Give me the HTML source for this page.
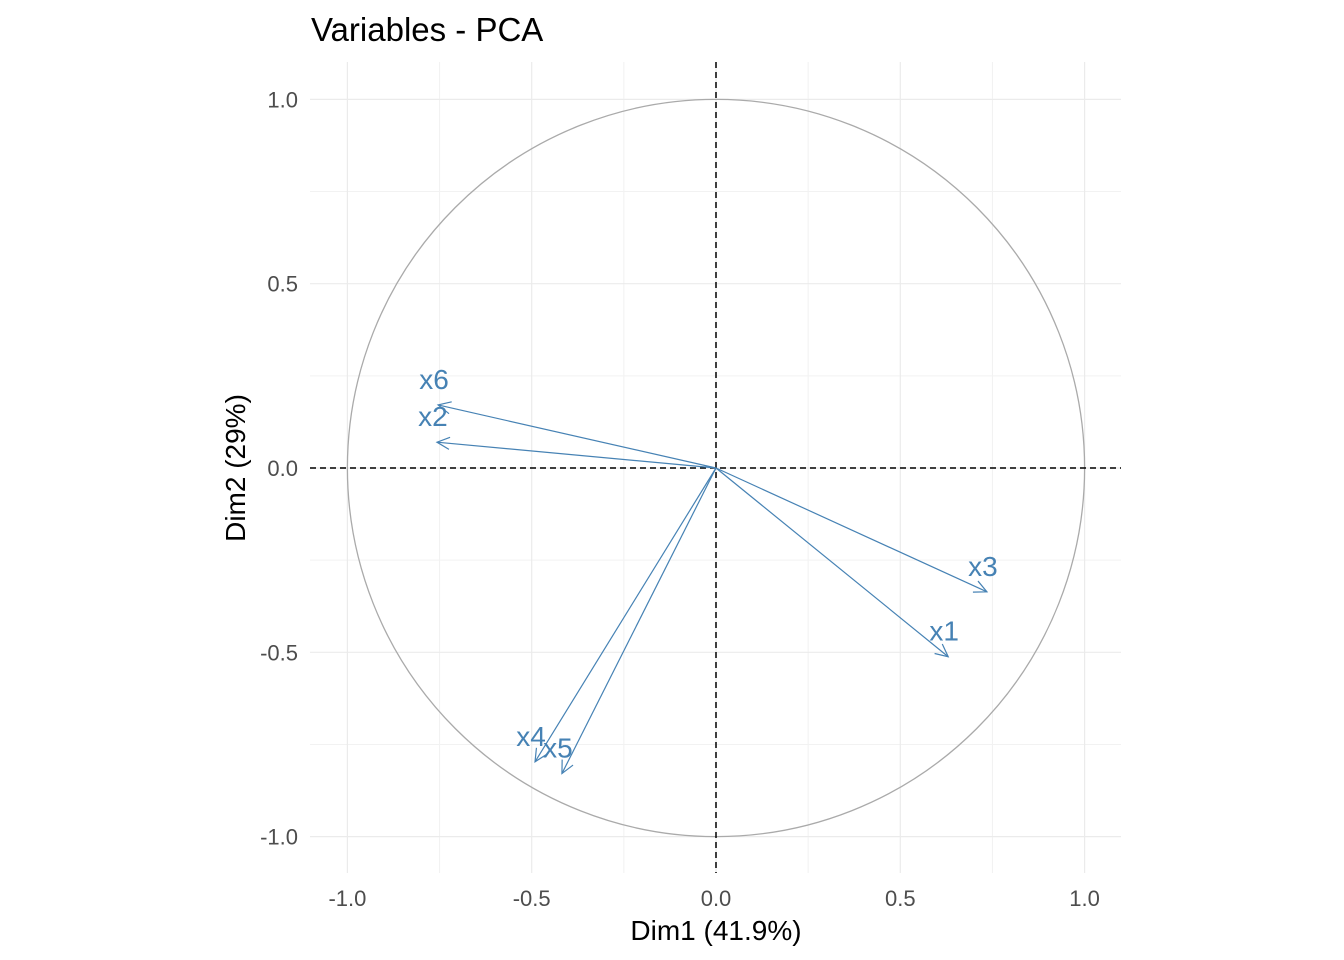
<!DOCTYPE html>
<html><head><meta charset="utf-8"><style>
html,body{margin:0;padding:0;background:#fff;}
svg{display:block;font-family:"Liberation Sans",Arial,sans-serif;}
</style></head><body>
<svg id="chart" width="1344" height="960" viewBox="0 0 1344 960" xmlns="http://www.w3.org/2000/svg">
<text x="311" y="41" font-size="33" fill="#000">Variables - PCA</text>
<g id="grid"></g>
<g id="circle"></g>
<g id="refs"></g>
<g id="arrows"></g>
<g id="ticks"></g>
<text x="716" y="940" font-size="28" text-anchor="middle" fill="#000">Dim1 (41.9%)</text>
<text transform="translate(245,468) rotate(-90)" font-size="28" text-anchor="middle" fill="#000">Dim2 (29%)</text>
</svg>
<script>
const varNames = ["x1","x2","x3","x4","x5","x6"];
const dim1 = [0.630,-0.757,0.735,-0.491,-0.418,-0.754];
const dim2 = [-0.512,0.070,-0.336,-0.797,-0.829,0.171];
const majorTicks = [-1.0,-0.5,0.0,0.5,1.0];
const tickLabels = ["-1.0","-0.5","0.0","0.5","1.0"];
const minorTicks = [-0.75,-0.25,0.25,0.75];

const NS="http://www.w3.org/2000/svg";
const X0=716, Y0=468, S=368.6;
const sx=v=>X0+v*S, sy=v=>Y0-v*S;
const L=310,R=1121,T=62,B=873;
function mk(tag,attrs,parent){const e=document.createElementNS(NS,tag);for(const k in attrs)e.setAttribute(k,attrs[k]);parent.appendChild(e);return e;}
const grid=document.getElementById('grid');
minorTicks.forEach(v=>{
  let a=mk('line',{x1:sx(v),x2:sx(v),y1:T,y2:B,stroke:'#f2f2f2','stroke-width':1},grid);
  
  
  let b=mk('line',{x1:L,x2:R,y1:sy(v),y2:sy(v),stroke:'#f2f2f2','stroke-width':1},grid);
  
  
});
majorTicks.forEach(v=>{
  let a=mk('line',{x1:sx(v),x2:sx(v),y1:T,y2:B,stroke:'#ebebeb','stroke-width':1.2},grid);
  
  
  let b=mk('line',{x1:L,x2:R,y1:sy(v),y2:sy(v),stroke:'#ebebeb','stroke-width':1.2},grid);
  
  
});
const circ=mk('circle',{cx:X0,cy:Y0,r:S,fill:'none',stroke:'#aaaaaa','stroke-width':1.3},document.getElementById('circle'));


const refs=document.getElementById('refs');
let h=mk('line',{x1:L,x2:R,y1:Y0,y2:Y0,stroke:'#000','stroke-width':1.5,'stroke-dasharray':'6,4'},refs);


let v=mk('line',{x1:X0,x2:X0,y1:T,y2:B,stroke:'#000','stroke-width':1.5,'stroke-dasharray':'6,4'},refs);


const ar=document.getElementById('arrows');
varNames.forEach((n,i)=>{
  const x=sx(dim1[i]), y=sy(dim2[i]);
  const g=mk('g',{},ar);
  
  
  mk('line',{x1:X0,y1:Y0,x2:x,y2:y,stroke:'#4682b4','stroke-width':1.2},g);
  const ang=Math.atan2(y-Y0,x-X0), hl=14, ha=0.45;
  const p1=[x-hl*Math.cos(ang-ha),y-hl*Math.sin(ang-ha)], p2=[x-hl*Math.cos(ang+ha),y-hl*Math.sin(ang+ha)];
  mk('polyline',{points:`${p1} ${x},${y} ${p2}`,fill:'none',stroke:'#4682b4','stroke-width':1.2},g);
  const t=mk('text',{x:x-4,y:y-16,'font-size':28,'text-anchor':'middle',fill:'#4682b4'},g);
  t.textContent=n;
  
  
});
const tk=document.getElementById('ticks');
majorTicks.forEach((val,i)=>{
  const a=mk('text',{x:sx(val),y:906,'font-size':22,'text-anchor':'middle',fill:'#4d4d4d'},tk);
  a.textContent=tickLabels[i];
  
  
  const b=mk('text',{x:298,y:sy(val)+8,'font-size':22,'text-anchor':'end',fill:'#4d4d4d'},tk);
  b.textContent=tickLabels[i];
  
  
});
</script>
</body></html>
